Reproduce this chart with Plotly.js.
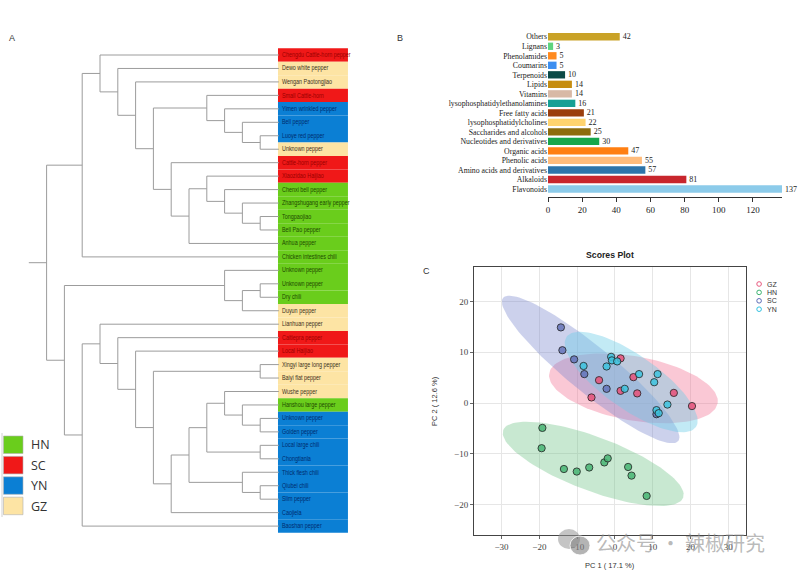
<!DOCTYPE html>
<html>
<head>
<meta charset="utf-8">
<script src="https://cdn.plot.ly/plotly-3.0.1.min.js"></script>
<style>html,body{margin:0;padding:0;background:#fff;}#chart{width:800px;height:572px;}</style>
</head>
<body>
<div id="chart"></div>
<script>
// ---------- Panel A: dendrogram data ----------
const leafNames = [
  "Chengdu Cattle-horn pepper","Dewo white pepper","Wengan Paotongjiao","Small Cattle-horn",
  "Yimen wrinkled pepper","Bell pepper","Luoye red pepper","Unknown pepper",
  "Cattle-horn pepper","Xiaozidao Haijiao","Chenxi bell pepper","Zhangshugang early pepper",
  "Tongpaojiao","Bell Pao pepper","Anhua pepper","Chicken intestines chili",
  "Unknown pepper","Unknown pepper","Dry chili","Duyun pepper",
  "Lianhuan pepper","Caitiepra pepper","Local Haijiao","Xingyi large long pepper",
  "Baiyi flat pepper","Wushe pepper","Hanshou large pepper","Unknown pepper",
  "Golden pepper","Local large chili","Chongtianla","Thick flesh chili",
  "Qiubei chili","Slim pepper","Caojiela","Baoshan pepper"
];
const leafGroups = [
  "SC","GZ","GZ","SC","YN","YN","YN","GZ","SC","SC","HN","HN","HN","HN","HN","HN",
  "HN","HN","HN","GZ","GZ","SC","SC","GZ","GZ","GZ","HN","YN","YN","YN","YN","YN",
  "YN","YN","YN","YN"
];
// hclust-style merges: negative = leaf (1-based), positive = earlier merge row (1-based)
const mergeA = [-7,-6,-5,-4,-13,-12,-11,-10,8,-9,4,-3,-2,-1,14,-18,16,-17,-24,-28,-27,-26,-30,22,-33,-32,24,27,19,-23,-22,-21,32,18,15];
const mergeB = [-8,1,2,3,-14,5,6,7,-15,9,10,11,12,13,-16,-19,-20,17,-25,-29,20,21,-31,23,-34,25,26,-35,28,29,30,31,-36,33,34];
const mergeHeight = [1,2,3,4,1,2,3,4,5,6,7,8,9,10,11,1,2,3,1,1,2,3,1,4,1,2,5,6,7,8,9,10,11,12,13];
const rootStubHeight = 14;

const groupNames = ["HN","SC","YN","GZ"];
const groupBoxColors = {HN:"#6acd1c", SC:"#f01818", YN:"#0b7fd4", GZ:"#fde4a4"};
const groupTextColors = {HN:"#1d4a00", SC:"#9a0000", YN:"#002c6e", GZ:"#3a3020"};

// ---------- Panel B: bar data (top to bottom) ----------
const barCategories = ["Others","Lignans","Phenolamides","Coumarins","Terpenoids","Lipids","Vitamins",
  "lysophosphatidylethanolamines","Free fatty acids","lysophosphatidylcholines","Saccharides and alcohols",
  "Nucleotides and derivatives","Organic acids","Phenolic acids","Amino acids and derivatives","Alkaloids","Flavonoids"];
const barValues = [42,3,5,5,10,14,14,16,21,22,25,30,47,55,57,81,137];
const barColors = ["#c9a227","#5fd47e","#ff8a1e","#3d8ff0","#0b4a47","#c68d10","#d8b9a6",
  "#16a095","#9b3e0c","#ffd36e","#8d6b0c","#17a64b","#ff7f12","#ffbc7c","#2d74aa","#c8262d","#8ccbea"];
const barTicks = [0,20,40,60,80,100,120];

// ---------- Panel C: PCA scores ----------
const pcaGroups = ["GZ","HN","SC","YN"];
const pcaX = {
  GZ:[1.5,-4.2,-6.2,4.9,1.5,5.9,15.6,20.4],
  HN:[-19.2,-19.4,-13.5,-10.1,-6.8,-2.8,-1.9,3.5,4.4,8.4],
  SC:[-14.3,-13.9,-10.8,-8.1,-2.2,11.0],
  YN:[-8.3,-2.2,-1.0,-0.8,0.6,2.6,6.4,11.3,10.4,13.9,11.0,11.6]
};
const pcaY = {
  GZ:[8.8,4.5,1.1,5.1,2.4,1.9,2.0,-0.6],
  HN:[-4.9,-8.9,-13.0,-13.5,-12.7,-11.7,-10.9,-12.6,-14.3,-18.3],
  SC:[14.9,10.4,8.6,5.7,2.8,-2.2],
  YN:[7.3,7.2,9.1,8.4,8.2,2.8,5.7,5.7,4.1,-0.3,-1.4,-2.0]
};
// confidence ellipses: centre and two conjugate half-axis vectors (data units)
const ellCx = {GZ:4.90, HN:-5.74, SC:-6.43, YN:4.31};
const ellCy = {GZ:2.90, HN:-11.98, SC:6.61, YN:4.14};
const ellU = {GZ:[22.29,-2.96], HN:[23.82,-6.65], SC:[23.19,-14.11], YN:[17.13,-8.88]};
const ellV = {GZ:[-1.48,-6.22], HN:[-2.51,-4.99], SC:[-3.86,-3.51], YN:[-4.08,-4.38]};
const pcaPointColors = {GZ:"rgba(232,80,120,0.85)", HN:"rgba(70,180,115,0.85)", SC:"rgba(100,115,185,0.85)", YN:"rgba(60,195,222,0.85)"};
const pcaEllColors = {GZ:"rgba(242,110,145,0.38)", HN:"rgba(110,195,135,0.38)", SC:"rgba(120,135,205,0.38)", YN:"rgba(110,205,232,0.42)"};
const pcaLegendColors = {GZ:"#e8577d", HN:"#3cb371", SC:"#5b6bb5", YN:"#30c0e0"};
const pcaTicks = [-30,-20,-10,0,10,20,30];
const pcaYTicks = [-20,-10,0,10,20];

// ---------- helpers ----------
const W = 800, H = 572;
const px = v => v / W;
const py = v => 1 - v / H;

// dendrogram geometry
const mergePos = [];
const lx = [], ly = [];
function refPos(r){
  if (r < 0) return {x:-0.05, y:-r-1};
  return mergePos[r-1];
}
for (let k = 0; k < mergeA.length; k++){
  const a = refPos(mergeA[k]), b = refPos(mergeB[k]), h = mergeHeight[k];
  lx.push(a.x, h, h, b.x, null); ly.push(a.y, a.y, b.y, b.y, null);
  mergePos.push({x:h, y:(a.y+b.y)/2});
}
const root = mergePos[mergePos.length-1];
lx.push(root.x, rootStubHeight, null); ly.push(root.y, root.y, null);

const traces = [];
traces.push({type:"scatter", mode:"lines", x:lx, y:ly, xaxis:"x", yaxis:"y",
  line:{color:"#9c9c9c", width:1}, hoverinfo:"skip", showlegend:false});

// bars
traces.push({type:"bar", orientation:"h", x:barValues, y:barCategories, xaxis:"x2", yaxis:"y2",
  marker:{color:barColors, line:{width:0}}, text:barValues.map(String), textposition:"outside",
  textfont:{family:"Liberation Serif, Times New Roman, serif", size:8, color:"#222"},
  cliponaxis:false, constraintext:"none", hoverinfo:"skip", showlegend:false});

// ellipses
const tSteps = [];
for (let i = 0; i <= 120; i++) tSteps.push(2*Math.PI*i/120);
pcaGroups.forEach(g => {
  const ex = tSteps.map(t => ellCx[g] + ellU[g][0]*Math.cos(t) + ellV[g][0]*Math.sin(t));
  const ey = tSteps.map(t => ellCy[g] + ellU[g][1]*Math.cos(t) + ellV[g][1]*Math.sin(t));
  traces.push({type:"scatter", mode:"lines", x:ex, y:ey, xaxis:"x3", yaxis:"y3", fill:"toself",
    fillcolor:pcaEllColors[g], line:{width:0, color:"rgba(0,0,0,0)"}, hoverinfo:"skip", showlegend:false});
});
pcaGroups.forEach(g => {
  traces.push({type:"scatter", mode:"markers", x:pcaX[g], y:pcaY[g], xaxis:"x3", yaxis:"y3",
    marker:{size:7.3, color:pcaPointColors[g], line:{color:"#222", width:0.8}}, name:g, hoverinfo:"skip", showlegend:false});
});

// shapes & annotations
const shapes = [], annotations = [];
leafNames.forEach((n, i) => {
  const g = leafGroups[i];
  shapes.push({type:"rect", xref:"x", yref:"y", x0:0, x1:-3.93, y0:i-0.5, y1:i+0.5,
    fillcolor:groupBoxColors[g], line:{width:0}, layer:"below"});
  annotations.push({xref:"x", yref:"y", x:-0.1, y:i, text:n, showarrow:false, xanchor:"left", yanchor:"middle", align:"left",
    font:{family:"Liberation Sans, Arial, sans-serif", size:6.6, color:groupTextColors[g]}});
});
const nLeafLabels = leafNames.length;
// panel A legend
shapes.push({type:"line", xref:"paper", yref:"paper", x0:px(2), x1:px(2), y0:py(433), y1:py(517), line:{color:"#d0d0d0", width:1}});
groupNames.forEach((g, i) => {
  const top = 436 + i*20.4;
  shapes.push({type:"rect", xref:"paper", yref:"paper", x0:px(3.5), x1:px(23), y0:py(top), y1:py(top+17.5),
    fillcolor:groupBoxColors[g], line:{color:"#b0b0b0", width:0.6}});
  annotations.push({xref:"paper", yref:"paper", x:px(29), y:py(top+8.8), text:g, showarrow:false, xanchor:"left", yanchor:"middle",
    font:{family:"Open Sans, Liberation Sans, sans-serif", size:12.5, color:"#333"}});
});
// panel letters
[["A",12,38],["B",400,38],["C",427,271]].forEach(p => {
  annotations.push({xref:"paper", yref:"paper", x:px(p[1]), y:py(p[2]), text:p[0], showarrow:false, xanchor:"center", yanchor:"middle",
    font:{family:"Liberation Sans, Arial, sans-serif", size:9, color:"#333"}});
});
// PCA titles
annotations.push({xref:"paper", yref:"paper", x:px(610), y:py(255), text:"<b>Scores Plot</b>", showarrow:false, xanchor:"center", yanchor:"middle",
  font:{family:"Liberation Sans, Arial, sans-serif", size:8.7, color:"#222"}});
annotations.push({xref:"paper", yref:"paper", x:px(610), y:py(565), text:"PC 1 ( 17.1 %)", showarrow:false, xanchor:"center", yanchor:"middle",
  font:{family:"Liberation Sans, Arial, sans-serif", size:7.5, color:"#333"}});
annotations.push({xref:"paper", yref:"paper", x:px(434), y:py(401), text:"PC 2 ( 12.6 %)", showarrow:false, textangle:-90, xanchor:"center", yanchor:"middle",
  font:{family:"Liberation Sans, Arial, sans-serif", size:7.5, color:"#333"}});
// PCA legend
pcaGroups.forEach((g, i) => {
  const cy = 284 + i*8.4;
  shapes.push({type:"circle", xref:"paper", yref:"paper", x0:px(756.8), x1:px(761.4), y0:py(cy-2.3), y1:py(cy+2.3),
    line:{color:pcaLegendColors[g], width:1}, fillcolor:"rgba(0,0,0,0)"});
  annotations.push({xref:"paper", yref:"paper", x:px(764.5), y:py(cy), text:g, showarrow:false, xanchor:"left", yanchor:"middle",
    font:{family:"Liberation Sans, Arial, sans-serif", size:7, color:"#333"}});
});
// watermark
shapes.push({type:"circle", xref:"paper", yref:"paper", x0:px(558), x1:px(580), y0:py(529), y1:py(549), fillcolor:"rgba(150,150,150,0.55)", line:{width:0}});
shapes.push({type:"circle", xref:"paper", yref:"paper", x0:px(570), x1:px(590), y0:py(536), y1:py(555), fillcolor:"rgba(130,130,130,0.6)", line:{color:"rgba(255,255,255,0.8)", width:1}});
annotations.push({xref:"paper", yref:"paper", x:px(594), y:py(542), text:"公众号 · 辣椒研究", showarrow:false, xanchor:"left", yanchor:"middle",
  font:{family:"Noto Sans CJK SC, sans-serif", size:20, color:"rgba(140,140,140,0.6)"}});

const serif = "Liberation Serif, Times New Roman, serif";
const layout = {
  width:W, height:H, margin:{l:0,r:0,t:0,b:0}, paper_bgcolor:"#fff", plot_bgcolor:"rgba(0,0,0,0)",
  showlegend:false, bargap:0.23,
  xaxis:{domain:[0, px(348)], range:[15.618,-3.933], visible:false, fixedrange:true},
  yaxis:{domain:[0,1], range:[38.41,-4.086], visible:false, fixedrange:true},
  xaxis2:{anchor:"y2", domain:[px(548), px(782)], range:[0,137], tickmode:"array", tickvals:barTicks,
    ticks:"outside", ticklen:4, tickcolor:"#333", showline:true, linecolor:"#333", linewidth:1,
    showgrid:false, zeroline:false, tickfont:{family:serif, size:9, color:"#222"}},
  yaxis2:{anchor:"x2", domain:[py(197), py(32)], type:"category", range:[16.84,-0.5], tickmode:"array",
    tickvals:barCategories, ticktext:barCategories, ticks:"", showgrid:false, showline:false, zeroline:false,
    tickfont:{family:serif, size:7.8, color:"#222"}},
  xaxis3:{anchor:"y3", domain:[px(474), px(746)], range:[-37.3,34.7], tickmode:"array", tickvals:pcaTicks,
    showgrid:true, gridcolor:"#e6e6e6", gridwidth:1, zeroline:false, showline:true, mirror:true, linecolor:"#444", linewidth:1,
    ticks:"outside", ticklen:3, tickcolor:"#666", tickfont:{family:serif, size:9, color:"#444"}},
  yaxis3:{anchor:"x3", domain:[py(535), py(267)], range:[-26,26.8], tickmode:"array", tickvals:pcaYTicks,
    showgrid:true, gridcolor:"#e6e6e6", gridwidth:1, zeroline:false, showline:true, mirror:true, linecolor:"#444", linewidth:1,
    ticks:"outside", ticklen:3, tickcolor:"#666", tickfont:{family:serif, size:9, color:"#444"}},
  shapes:shapes, annotations:annotations
};
Plotly.newPlot("chart", traces, layout, {staticPlot:true, displayModeBar:false}).then(gd => {
  // condense leaf labels (narrow typeface look)
  for (let i = 0; i < nLeafLabels; i++){
    const t = gd.querySelector('.annotation[data-index="' + i + '"] text.annotation-text');
    if (!t) continue;
    const L = t.getComputedTextLength();
    t.setAttribute("textLength", (L * 0.82).toFixed(2));
    t.setAttribute("lengthAdjust", "spacingAndGlyphs");
  }
});
</script>
</body>
</html>
